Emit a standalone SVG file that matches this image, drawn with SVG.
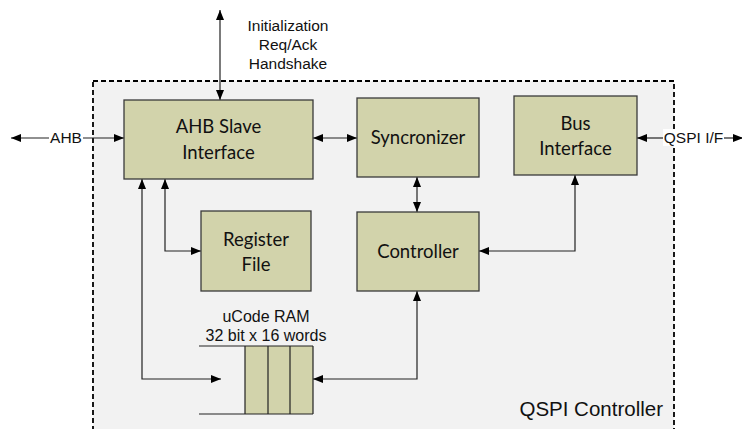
<svg xmlns="http://www.w3.org/2000/svg" width="742" height="429" viewBox="0 0 742 429">
<defs>
<marker id="arr" viewBox="0 0 10 8" refX="10" refY="4" markerWidth="10" markerHeight="8" markerUnits="userSpaceOnUse" orient="auto-start-reverse">
<path d="M0,0 L10,4 L0,8 z" fill="#000"/>
</marker>
<style>
.box{fill:#d2d3ab;stroke:#3a3a3a;stroke-width:1.3}
.bt{font-family:Lato,"Open Sans",sans-serif;font-size:18.5px;fill:#111;text-anchor:middle}
.lt{font-family:"Liberation Sans",Arial,sans-serif;font-size:15.5px;fill:#111;text-anchor:middle}
.con{fill:none;stroke:#222;stroke-width:1.2;marker-start:url(#arr);marker-end:url(#arr)}
.plain{fill:none;stroke:#222;stroke-width:1.2}
</style>
</defs>
<rect width="742" height="429" fill="#fff"/>
<g id="container">
<rect x="93" y="81" width="581" height="370" fill="#f2f2f2" stroke="#000" stroke-width="1.8" stroke-dasharray="5,3"/>
<text x="663" y="415.5" font-family="Liberation Sans,Arial,sans-serif" font-size="20.5" fill="#111" text-anchor="end">QSPI Controller</text>
</g>
<g id="connectors">
<path class="con" d="M220,10 L220,100"/>
<path class="plain" d="M11,138 L49,138" style="marker-start:url(#arr)"/>
<path class="plain" d="M83,138 L124,138" style="marker-end:url(#arr)"/>
<path class="con" d="M313,138 L357,138"/>
<path class="plain" d="M637,138 L663,138" style="marker-start:url(#arr)"/>
<path class="plain" d="M724,138 L743,138" style="marker-end:url(#arr)"/>
<path class="con" d="M417,177 L417,212"/>
<path class="con" d="M575,175 L575,251 L479,251"/>
<path class="con" d="M165,179 L165,251 L201,251"/>
<path class="con" d="M142,179 L142,379 L221,379"/>
<path class="con" d="M417,291 L417,379 L313,379"/>
<text class="lt" x="288" y="31">Initialization</text>
<text class="lt" x="288" y="50">Req/Ack</text>
<text class="lt" x="288" y="69">Handshake</text>
<text class="lt" x="66" y="143">AHB</text>
<rect x="663" y="129" width="61" height="17" fill="#fff"/>
<text class="lt" x="693.5" y="143">QSPI I/F</text>
</g>
<g id="ahb">
<rect class="box" x="124" y="100" width="189" height="79"/>
<text class="bt" x="218.5" y="133">AHB Slave</text>
<text class="bt" x="218.5" y="159">Interface</text>
</g>
<g id="sync">
<rect class="box" x="357" y="98" width="122" height="79"/>
<text class="bt" x="418" y="144">Syncronizer</text>
</g>
<g id="bus">
<rect class="box" x="514" y="96" width="123" height="79"/>
<text class="bt" x="575.5" y="130">Bus</text>
<text class="bt" x="575.5" y="155">Interface</text>
</g>
<g id="regfile">
<rect class="box" x="201" y="211" width="110" height="80"/>
<text class="bt" x="256" y="245.5">Register</text>
<text class="bt" x="256" y="270.5">File</text>
</g>
<g id="controller">
<rect class="box" x="357" y="212" width="122" height="79"/>
<text class="bt" x="418" y="258">Controller</text>
</g>
<g id="ram">
<text class="lt" x="266" y="322" style="font-size:16px">uCode RAM</text>
<text class="lt" x="266" y="341" style="font-size:16px">32 bit x 16 words</text>
<rect x="245" y="346" width="68" height="68" fill="#d2d3ab"/>
<path class="plain" d="M199,346 L313,346 M199,414 L313,414 M245,346 L245,414 M268,346 L268,414 M290,346 L290,414 M313,346 L313,414" stroke="#111"/>
</g>
</svg>
